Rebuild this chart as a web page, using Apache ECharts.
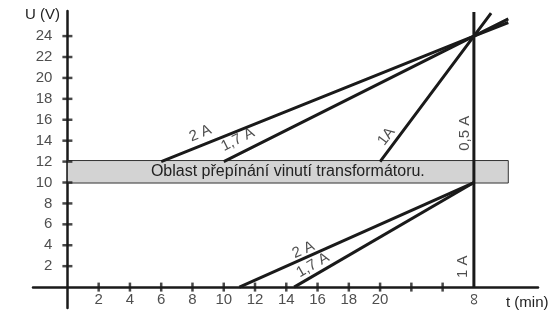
<!DOCTYPE html>
<html><head><meta charset="utf-8">
<script src="https://cdn.jsdelivr.net/npm/echarts@6/dist/echarts.min.js"></script>
<style>html,body{margin:0;padding:0;background:#fff}#c{width:558px;height:313px}</style>
</head><body><div id="c"></div>
<script>
// Data
var xTickValues = [2,4,6,8,10,12,14,16,18,20,22,24];
var xLabelValues = [2,4,6,8,10,12,14,16,18,20];
var yTickValues = [2,4,6,8,10,12,14,16,18,20,22,24];
var yLabelValues = [2,4,6,8,10,12,14,16,18,20,22,24];
// upper lines (above the switching band)
var upper2A  = [[6,12],[26,24],[28.2,25.3]];
var upper17A = [[10,12],[26,24],[28.2,25.65]];
var upper1A  = [[20,12],[26,24],[27.1,26.2]];
var vertical05A = [[26,0],[26,26.3]];
// lower lines (below the switching band)
var lower2A  = [[11,0],[26,10]];
var lower17A = [[14.5,0],[26,10]];
var band = {x0:0, x1:28.2, y0:9.95, y1:12.1, text:'Oblast přepínání vinutí transformátoru.'};
// line labels: [x, y, text, rotate]
var lineLabels = [
  [8.5,14.7,'2 A',21.8],
  [10.9,14.1,'1,7 A',26.5],
  [20.4,14.4,'1A',53],
  [25.4,14.7,'0,5 A',90],
  [15.1,3.55,'2 A',23.9],
  [15.7,2.1,'1,7 A',30],
  [25.3,1.95,'1 A',90],
  [26,-1.15,'∞',90]
];

var ink = '#1a1a1a';
var txt = '#222';
var font = 'Liberation Sans, Arial, sans-serif';
function lineSeries(d){
  return {type:'line', data:d, symbol:'none', silent:true, z:3,
    lineStyle:{color:ink, width:3}};
}
var chart = echarts.init(document.getElementById('c'));
chart.setOption({
  animation:false,
  grid:{left:33, right:20, top:11, bottom:5, containLabel:false, outerBoundsMode:'none'},
  xAxis:{type:'value', min:-2.2, max:30.1,
    axisLine:{onZero:true, lineStyle:{color:ink, width:2.5}},
    axisTick:{show:false}, splitLine:{show:false}, axisLabel:{show:false}
  },
  yAxis:{type:'value', min:-2, max:26.4,
    axisLine:{onZero:true, lineStyle:{color:ink, width:2.5}},
    axisTick:{show:false}, splitLine:{show:false}, axisLabel:{show:false}
  },
  graphic:[
    {type:'text', left:25, top:7, style:{text:'U (V)', fontSize:15, fontFamily:font, fill:txt}},
    {type:'text', left:506, top:295, style:{text:'t (min)', fontSize:15, fontFamily:font, fill:txt}}
  ],
  series:[
    lineSeries(upper2A), lineSeries(upper17A), lineSeries(upper1A), lineSeries(vertical05A),
    lineSeries(lower2A), lineSeries(lower17A),
    {type:'scatter', symbol:'rect', symbolSize:[2.5,9], silent:true, z:4,
      itemStyle:{color:ink}, data:xTickValues.map(function(v){return [v,0];})},
    {type:'scatter', symbol:'rect', symbolSize:[10,2.5], silent:true, z:4,
      itemStyle:{color:ink}, data:yTickValues.map(function(v){return [0,v];})},
    {type:'scatter', symbolSize:0, silent:true, z:4,
      label:{show:true, position:'bottom', distance:5, color:txt, fontSize:15, fontFamily:font,
        formatter:function(p){return String(p.value[0]);}},
      data:xLabelValues.map(function(v){return [v,0];})},
    {type:'scatter', symbolSize:0, silent:true, z:4,
      label:{show:true, position:'left', distance:15, color:txt, fontSize:15, fontFamily:font,
        formatter:function(p){return String(p.value[1]);}},
      data:yLabelValues.map(function(v){return [0,v];})},
    {type:'line', data:[], z:6, silent:true,
      markArea:{silent:true,
        itemStyle:{color:'#d3d3d3', borderColor:'#333', borderWidth:1},
        label:{show:true, position:'inside', color:txt, fontSize:16, fontFamily:font, formatter:band.text},
        data:[[{xAxis:band.x0, yAxis:band.y0},{xAxis:band.x1, yAxis:band.y1}]]}},
    {type:'scatter', symbolSize:0, silent:true, z:7,
      data:lineLabels.map(function(l){
        return {value:[l[0],l[1]], label:{show:true, position:'inside', formatter:l[2], rotate:l[3],
          color:txt, fontSize: l[2]==='∞'?17:15, fontFamily:font}};
      })}
  ]
});
</script></body></html>
